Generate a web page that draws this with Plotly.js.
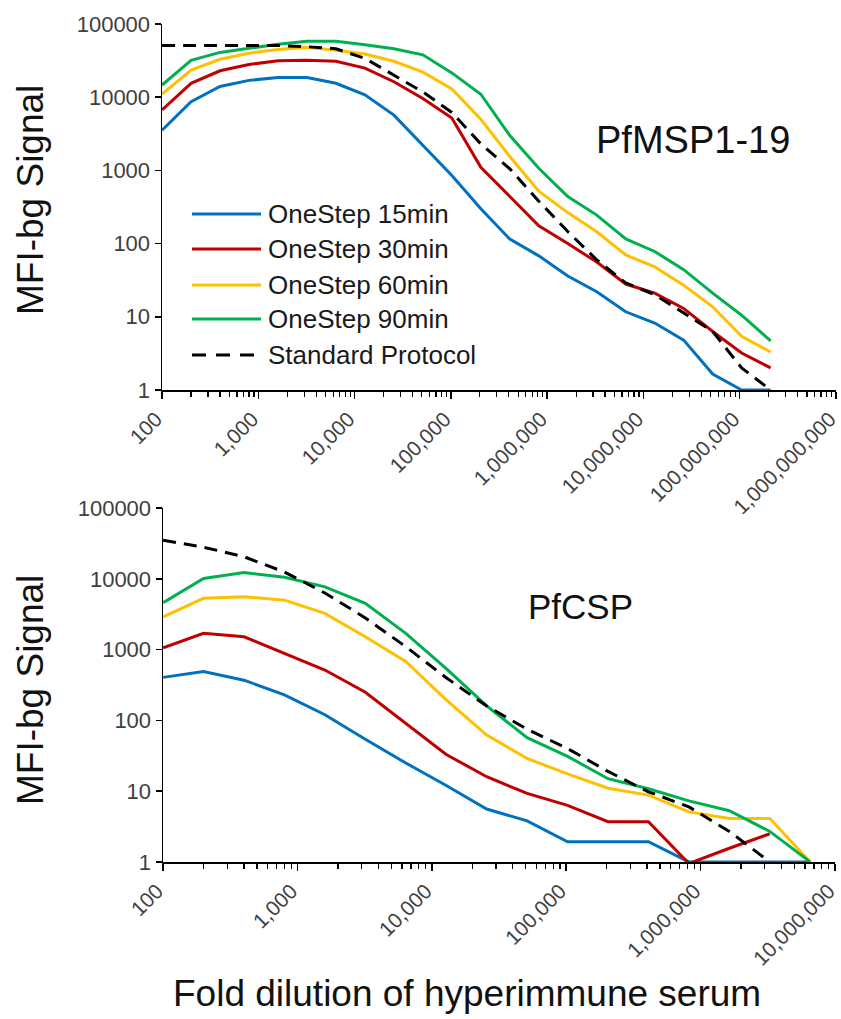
<!DOCTYPE html>
<html>
<head>
<meta charset="utf-8">
<script src="https://cdn.plot.ly/plotly-3.0.1.min.js"></script>
<style>
html,body{margin:0;padding:0;background:#fff;}
#chart{width:841px;height:1019px;}
</style>
</head>
<body>
<div id="chart"></div>
<script>
// ---------- data ----------
const seriesNames = ["OneStep 15min", "OneStep 30min", "OneStep 60min", "OneStep 90min", "Standard Protocol"];
const seriesColors = ["#0070C0", "#C00000", "#FFC000", "#00B050", "#000000"];

// Panel A: PfMSP1-19
const dilutionA = [100, 200, 400, 800, 1600, 3200, 6400, 12800, 25600, 51200, 102400, 204800, 409600, 819200,
  1638400, 3276800, 6553600, 13107200, 26214400, 52428800, 104857600, 209715200];
const msp15 = [3550, 8700, 14000, 17000, 18600, 18600, 15500, 10800, 5700, 2200, 850, 300, 115, 68, 36, 22, 11.7, 8.2, 4.8, 1.65, 1, 1];
const msp30 = [6700, 15500, 23000, 28000, 31500, 32000, 31000, 25000, 16300, 9600, 5200, 1100, 440, 175, 100, 56, 28, 21, 13, 6.3, 3.2, 2.0];
const msp60 = [11000, 23500, 33000, 40000, 45000, 48000, 44000, 39000, 31000, 22000, 13000, 5000, 1550, 520, 265, 145, 70, 48, 27, 13.7, 5.4, 3.3];
const msp90 = [14700, 32000, 41000, 47000, 53000, 58000, 58000, 52000, 46000, 38000, 21500, 11000, 3000, 1070, 440, 245, 116, 78, 44, 21, 10.5, 4.7];
const mspStd = [51000, 51000, 51000, 51000, 51000, 49000, 46000, 34000, 20000, 11800, 6200, 2300, 1050, 380, 146, 60, 29, 20, 11.3, 6.3, 2, 1];

// Panel B: PfCSP
const dilutionB = [100, 200, 400, 800, 1600, 3200, 6400, 12800, 25600, 51200, 102400, 204800, 409600, 819200,
  1638400, 3276800, 6553600];
const csp15 = [405, 490, 370, 230, 120, 54, 25, 12, 5.6, 3.8, 1.93, 1.93, 1.93, 1, 1, 1, 1];
const csp30 = [1060, 1700, 1520, 890, 515, 250, 90, 33, 16, 9.3, 6.3, 3.7, 3.7, 0.95, 1.56, 2.5, null];
const csp60 = [2900, 5300, 5600, 5000, 3250, 1520, 680, 195, 62, 29, 17.5, 11, 8.8, 5.1, 4.1, 4.1, 1];
const csp90 = [4600, 10100, 12300, 10500, 7700, 4500, 1700, 540, 160, 57, 31, 15, 10.8, 7.3, 5.3, 2.7, 1];
const cspStd = [35000, 28000, 20500, 12500, 6300, 2800, 1100, 400, 160, 75, 40, 19, 9.8, 6, 2.7, 1, null];

const xTickValsA = [100, 1000, 10000, 100000, 1000000, 10000000, 100000000, 1000000000];
const xTickTextA = ["100", "1,000", "10,000", "100,000", "1,000,000", "10,000,000", "100,000,000", "1,000,000,000"];
const xTickValsB = [100, 1000, 10000, 100000, 1000000, 10000000];
const xTickTextB = ["100", "1,000", "10,000", "100,000", "1,000,000", "10,000,000"];
const yTickVals = [1, 10, 100, 1000, 10000, 100000];
const yTickText = ["1", "10", "100", "1000", "10000", "100000"];

const panelLabels = ["PfMSP1-19", "PfCSP"];
const yTitle = "MFI-bg Signal";
const xTitle = "Fold dilution of hyperimmune serum";

// ---------- traces ----------
const W = 841, H = 1019;
const FONT = "Liberation Sans, Arial, sans-serif";
const seriesA = [msp15, msp30, msp60, msp90, mspStd];
const seriesB = [csp15, csp30, csp60, csp90, cspStd];
const traces = [];
function mk(x, y, i, xa, ya) {
  return {
    x: x, y: y, xaxis: xa, yaxis: ya, type: "scatter", mode: "lines",
    name: seriesNames[i], showlegend: false, connectgaps: false,
    line: { color: seriesColors[i], width: 3, dash: i === 4 ? "13px,8px" : "solid" },
    hoverinfo: "skip"
  };
}
[0, 1, 2, 3, 4].forEach(i => traces.push(mk(dilutionA, seriesA[i], i, "x", "y")));
[0, 1, 2, 3, 4].forEach(i => traces.push(mk(dilutionB, seriesB[i], i, "x2", "y2")));

// ---------- layout ----------
const px = v => v / W;
const py = v => 1 - v / H;
const tickFont = { family: FONT, size: 21, color: "#404040" };
const EPS = 0.0008;
function xax(vals, text, range, anchor, dom) {
  return {
    type: "log", range: [range[0] - EPS, range[1] + EPS], domain: dom, anchor: anchor,
    tickmode: "array", tickvals: vals, ticktext: text, tickangle: -45, ticklabeloverflow: "allow",
    ticklabelshift: -6,
    ticks: "outside", ticklen: 7, tickwidth: 1.5, tickcolor: "#000",
    minor: { ticks: "outside", ticklen: 5, tickwidth: 1.2, tickcolor: "#000", dtick: "D1", showgrid: false },
    showline: true, linecolor: "#000", linewidth: 1.5, showgrid: false, zeroline: false,
    tickfont: tickFont, fixedrange: true
  };
}
function yax(dom, anchor) {
  return {
    type: "log", range: [0 - EPS, 5 + EPS], domain: dom, anchor: anchor,
    tickmode: "array", tickvals: yTickVals, ticktext: yTickText, ticklabeloverflow: "allow",
    ticks: "outside", ticklen: 6, tickwidth: 1.5, tickcolor: "#000",
    showline: true, linecolor: "#000", linewidth: 1.5, showgrid: false, zeroline: false,
    tickfont: { family: FONT, size: 22, color: "#404040" }, fixedrange: true
  };
}

const annotations = [
  { text: panelLabels[0], xref: "paper", yref: "paper", x: px(693), y: py(140), showarrow: false,
    font: { family: FONT, size: 38, color: "#111" }, xanchor: "center", yanchor: "middle" },
  { text: panelLabels[1], xref: "paper", yref: "paper", x: px(580), y: py(606), showarrow: false,
    font: { family: FONT, size: 35, color: "#111" }, xanchor: "center", yanchor: "middle" },
  { text: yTitle, xref: "paper", yref: "paper", x: px(30), y: py(200), showarrow: false, textangle: -90,
    font: { family: FONT, size: 37, color: "#111" }, xanchor: "center", yanchor: "middle" },
  { text: yTitle, xref: "paper", yref: "paper", x: px(30), y: py(690), showarrow: false, textangle: -90,
    font: { family: FONT, size: 37, color: "#111" }, xanchor: "center", yanchor: "middle" },
  { text: xTitle, xref: "paper", yref: "paper", x: px(467), y: py(993), showarrow: false,
    font: { family: FONT, size: 37, color: "#111" }, xanchor: "center", yanchor: "middle" }
];
const shapes = [];
const legendY = [214, 249, 285, 319, 355];
seriesNames.forEach((n, i) => {
  shapes.push({ type: "line", xref: "paper", yref: "paper", x0: px(192), x1: px(261), y0: py(legendY[i]), y1: py(legendY[i]),
    line: { color: seriesColors[i], width: 3, dash: i === 4 ? "14px,10px" : "solid" } });
  annotations.push({ text: n, xref: "paper", yref: "paper", x: px(266), y: py(legendY[i]), showarrow: false,
    xanchor: "left", yanchor: "middle", font: { family: FONT, size: 26, color: "#1a1a1a" } });
});

const layout = {
  width: W, height: H, margin: { l: 0, r: 0, t: 0, b: 0 },
  paper_bgcolor: "#fff", plot_bgcolor: "#fff", showlegend: false,
  xaxis: xax(xTickValsA, xTickTextA, [2, 9], "y", [px(162), px(836)]),
  yaxis: yax([py(390), py(24)], "x"),
  xaxis2: xax(xTickValsB, xTickTextB, [2, 7], "y2", [px(163), px(835)]),
  yaxis2: yax([py(862), py(508)], "x2"),
  annotations: annotations, shapes: shapes
};

Plotly.newPlot("chart", traces, layout, { staticPlot: true, displayModeBar: false });
</script>
</body>
</html>
